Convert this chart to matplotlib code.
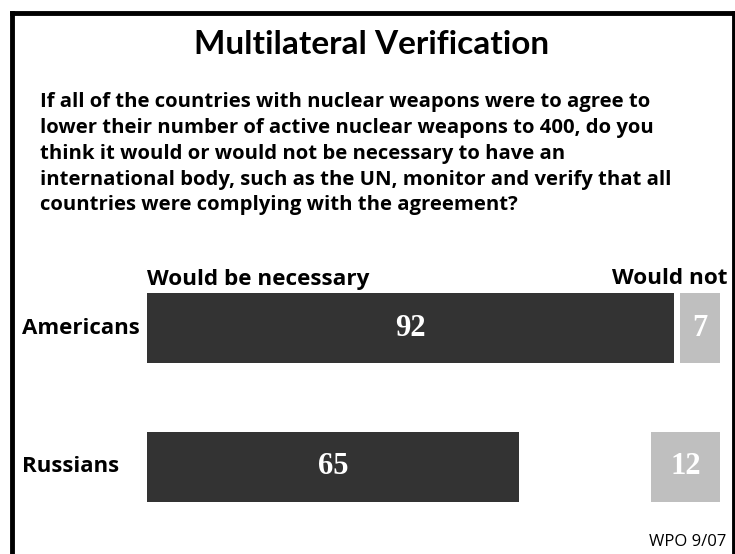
import matplotlib
matplotlib.use("Agg")
import matplotlib.pyplot as plt
import matplotlib.transforms as mtransforms
from matplotlib.lines import Line2D

groups = ["Americans", "Russians"]
necessary = [92, 65]
would_not = [7, 12]
col_labels = ["Would be necessary", "Would not"]
title = "Multilateral Verification"
question = ("If all of the countries with nuclear weapons were to agree to\n"
            "lower their number of active nuclear weapons to 400, do you\n"
            "think it would or would not be necessary to have an\n"
            "international body, such as the UN, monitor and verify that all\n"
            "countries were complying with the agreement?")
source = "WPO 9/07"

W, H = 735, 554
fig = plt.figure(figsize=(W / 100, H / 100), dpi=100)
fig.patch.set_facecolor("white")

def P(x, y):
    return (x / W, 1 - y / H)

TITLE_FONT = "Lato"
SANS = "Open Sans"
SERIF = "Liberation Serif"
DARK = "#333333"
LIGHT = "#bfbfbf"

# frame
for (x0, y0, x1, y1) in [(12, 12.5, 734, 12.5), (12, 12.5, 12, 560), (734, 12.5, 734, 560)]:
    a, b = P(x0, y0)
    c, d = P(x1, y1)
    fig.add_artist(Line2D([a, c], [b, d], color="black", lw=3.5, transform=fig.transFigure,
                          solid_capstyle="projecting"))

fig.text(*P(372, 44), title, ha="center", va="center", fontsize=24, fontweight="bold",
         family=TITLE_FONT)
fig.text(*P(40, 92), question, ha="left", va="top", fontsize=14.6, fontweight="bold",
         family=SANS, linespacing=1.39)

ax = fig.add_axes([147 / W, 1 - 536.5 / H, 573 / W, 278 / H])
ax.set_xlim(0, 100)
ax.set_ylim(1.5, -0.5)
ax.axis("off")
ypos = list(range(len(groups)))
ax.barh(ypos, necessary, height=0.504, left=0, color=DARK)
ax.barh(ypos, would_not, height=0.504, left=[100 - v for v in would_not], color=LIGHT)
blend = mtransforms.blended_transform_factory(fig.transFigure, ax.transData)
for y, n, w in zip(ypos, necessary, would_not):
    ax.text(n / 2, y, str(n), ha="center", va="center", color="white", fontsize=22,
            fontweight="bold", family=SERIF)
    ax.text(100 - w / 2, y, str(w), ha="center", va="center", color="white", fontsize=22,
            fontweight="bold", family=SERIF)
    fig.text(22 / W, y, groups[y], ha="left", va="center", fontsize=16, fontweight="bold",
             family=SANS, transform=blend)

fig.text(*P(147, 279), col_labels[0], ha="left", va="center", fontsize=16.2,
         fontweight="bold", family=SANS)
fig.text(*P(727, 279), col_labels[1], ha="right", va="center", fontsize=16.2,
         fontweight="bold", family=SANS)
fig.text(*P(726, 542), source, ha="right", va="center", fontsize=12, family=SANS)

fig.savefig("out.png", dpi=100, facecolor="white")
